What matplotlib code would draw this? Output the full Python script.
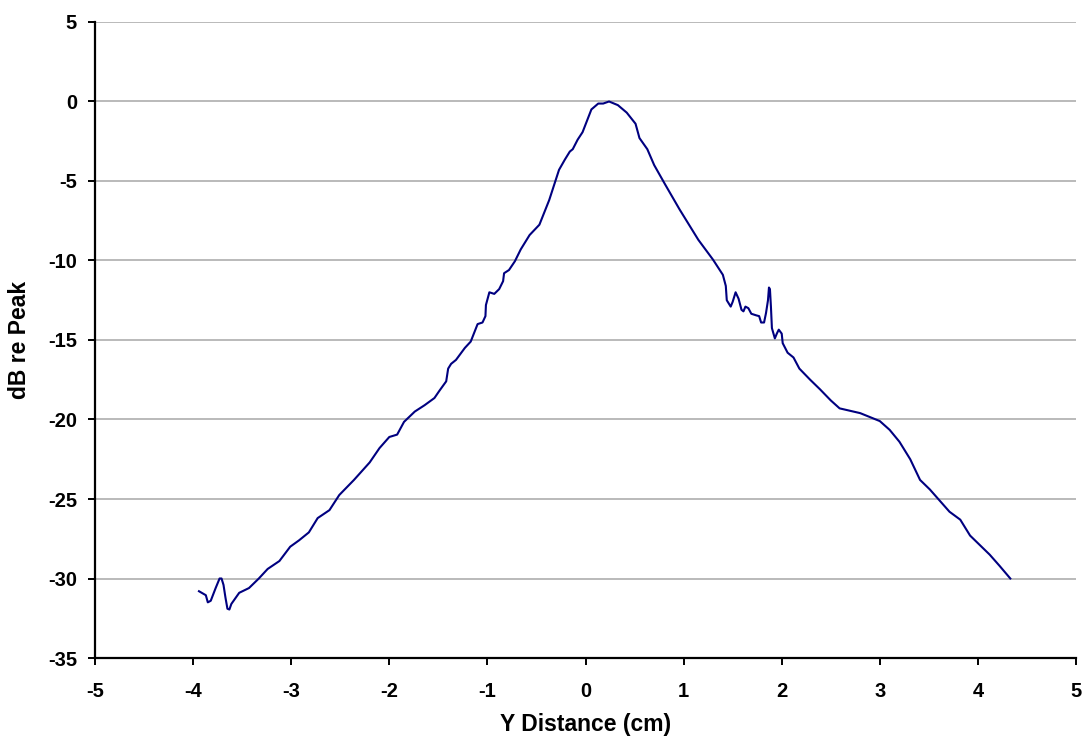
import matplotlib
matplotlib.use('Agg')
import matplotlib.pyplot as plt

plt.rcParams['font.family'] = ['Liberation Sans', 'DejaVu Sans']
plt.rcParams['axes.unicode_minus'] = False

# distance (cm) and level (dB re peak)
y_dist = [-3.94, -3.87, -3.85, -3.82, -3.77, -3.73, -3.71, -3.69, -3.67, -3.65,
          -3.63, -3.61, -3.53, -3.43, -3.33, -3.24, -3.12, -3.01, -2.92, -2.82,
          -2.73, -2.61, -2.51, -2.36, -2.20, -2.10, -2.00, -1.92, -1.85, -1.74,
          -1.64, -1.54, -1.49, -1.42, -1.40, -1.37, -1.32, -1.23, -1.17, -1.10,
          -1.05, -1.02, -1.015, -0.98, -0.93, -0.88, -0.84, -0.83, -0.78, -0.72,
          -0.66, -0.57, -0.47, -0.37, -0.27, -0.21, -0.16, -0.13, -0.08, -0.03,
          0.06, 0.13, 0.18, 0.24, 0.33, 0.42, 0.51, 0.55, 0.63, 0.70,
          0.81, 0.96, 1.15, 1.30, 1.40, 1.43, 1.44, 1.48, 1.50, 1.53,
          1.56, 1.59, 1.61, 1.63, 1.66, 1.69, 1.74, 1.77, 1.79, 1.82,
          1.84, 1.86, 1.87, 1.88, 1.89, 1.90, 1.93, 1.95, 1.97, 2.00,
          2.01, 2.06, 2.12, 2.18, 2.29, 2.39, 2.50, 2.59, 2.80, 3.00,
          3.10, 3.20, 3.31, 3.41, 3.51, 3.61, 3.71, 3.82, 3.92, 4.02,
          4.12, 4.22, 4.33]
db_re_peak = [-30.8, -31.05, -31.5, -31.4, -30.6, -30.0, -30.0, -30.4, -31.2, -31.9,
              -31.95, -31.6, -30.9, -30.6, -30.0, -29.4, -28.9, -28.0, -27.6, -27.1,
              -26.2, -25.7, -24.75, -23.8, -22.7, -21.8, -21.1, -20.95, -20.15, -19.5,
              -19.1, -18.65, -18.2, -17.6, -16.8, -16.5, -16.25, -15.5, -15.1, -14.0,
              -13.9, -13.5, -12.8, -12.0, -12.1, -11.8, -11.3, -10.8, -10.6, -10.05,
              -9.3, -8.4, -7.75, -6.2, -4.3, -3.65, -3.15, -3.0, -2.4, -1.93,
              -0.5, -0.13, -0.13, 0.0, -0.23, -0.7, -1.4, -2.3, -3.0, -4.0,
              -5.2, -6.8, -8.7, -9.95, -10.9, -11.6, -12.5, -12.9, -12.6, -12.0,
              -12.4, -13.1, -13.2, -12.9, -13.0, -13.35, -13.45, -13.5, -13.9, -13.9,
              -13.3, -12.5, -11.7, -11.8, -12.9, -14.25, -14.9, -14.6, -14.35, -14.6,
              -15.2, -15.8, -16.1, -16.8, -17.5, -18.1, -18.8, -19.3, -19.6, -20.1,
              -20.65, -21.4, -22.5, -23.8, -24.4, -25.1, -25.8, -26.3, -27.3, -27.9,
              -28.5, -29.2, -30.0]

x_ticks = [-5, -4, -3, -2, -1, 0, 1, 2, 3, 4, 5]
y_ticks = [5, 0, -5, -10, -15, -20, -25, -30, -35]

fig = plt.figure(figsize=(10.88, 7.40), dpi=100)
ax = fig.add_axes([0.0873, 0.1108, 0.9017, 0.8595])

ax.plot(y_dist, db_re_peak, color='#000080', linewidth=1.5)

ax.set_xlim(-5, 5)
ax.set_ylim(-35, 5)
ax.set_xticks(x_ticks)
ax.set_yticks(y_ticks)
ax.grid(axis='y', color='#b4b4b4', linewidth=1.3)
ax.set_axisbelow(True)

for side in ['top', 'right']:
    ax.spines[side].set_visible(False)
for side in ['left', 'bottom']:
    ax.spines[side].set_linewidth(1.6)

ax.tick_params(direction='out', length=5, width=1.4, labelsize=14.5)
ax.tick_params(axis='y', pad=8)
ax.tick_params(axis='x', pad=12)
for lbl in ax.get_xticklabels() + ax.get_yticklabels():
    lbl.set_fontweight('bold')

ax.set_xlabel('Y Distance (cm)', fontsize=16.5, fontweight='bold', labelpad=9)
ax.set_ylabel('dB re Peak', fontsize=16.5, fontweight='bold', labelpad=12)

fig.savefig('out.png', dpi=100)
